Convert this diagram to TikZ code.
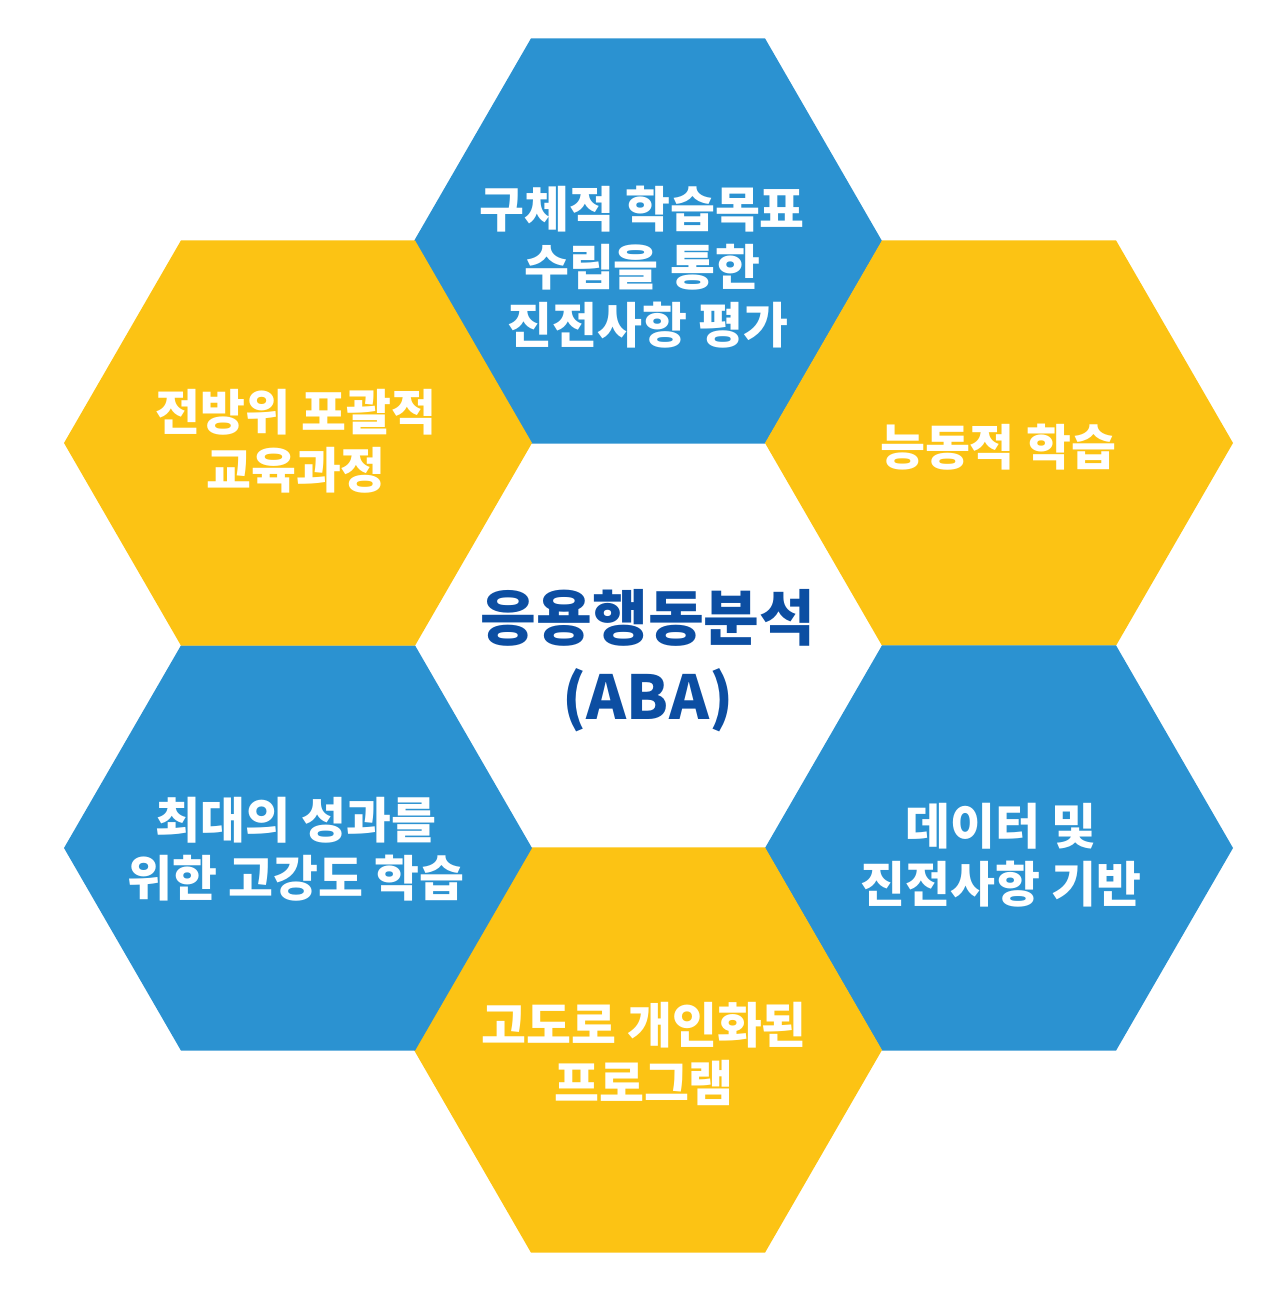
\documentclass[tikz,border=0pt]{standalone}
\usepackage{fontspec}
\setmainfont{Noto Sans CJK KR}
\definecolor{abablue}{RGB}{43,146,209}
\definecolor{abayellow}{RGB}{252,195,20}
\definecolor{abanavy}{RGB}{12,78,162}
\begin{document}
\begin{tikzpicture}[x=0.02cm, y=-0.02cm,
    hexlabel/.style={align=center, text=white, font=\bfseries\fontsize{27.8}{33}\selectfont},
    centrelabel/.style={align=center, text=abanavy, font=\bfseries\fontsize{34.5}{45}\selectfont}]
  \useasboundingbox (0,0) rectangle (1280,1294);

  % hexagons
  \foreach \cx/\cy/\col in {648/241/abablue, 999/443/abayellow, 999/848/abablue,
      648/1050/abayellow, 298/848/abablue, 298/443/abayellow}
    \fill[\col] (\cx,\cy) +(0:234) -- +(60:234) -- +(120:234) -- +(180:234)
      -- +(240:234) -- +(300:234) -- cycle;

  % labels
  \node[hexlabel] (goals) at (642,267) {구체적 학습목표\\수립을 통한\\\hspace{0.25em}진전사항 평가};
  \node[hexlabel] (active) at (998,447) {능동적 학습};
  \node[hexlabel] (data) at (1001,855) {데이터 및\\진전사항 기반};
  \node[hexlabel] (personal) at (644,1054) {고도로 개인화된\\프로그램};
  \node[hexlabel] (intensive) at (296,849) {최대의 성과를\\위한 고강도 학습};
  \node[hexlabel] (curriculum) at (296,441) {전방위 포괄적\\교육과정};

  % centre
  \node[centrelabel] (aba) at (648,661) {응용행동분석\\(ABA)};
\end{tikzpicture}
\end{document}
